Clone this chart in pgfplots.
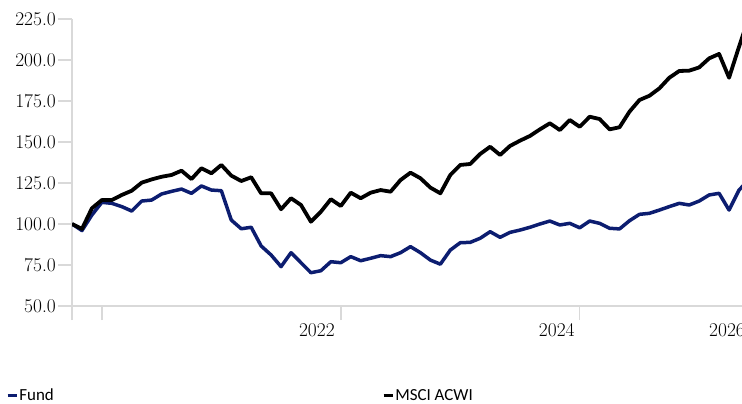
\documentclass[border=0pt]{standalone}
\usepackage{fontspec}
\newfontfamily\legfont{Carlito}
\usepackage{pgfplots}
\pgfplotsset{compat=1.18}
\definecolor{fundblue}{RGB}{12,29,112}
\definecolor{axgray}{RGB}{217,217,217}
\pgfplotstableread{
i fund msci
0 100 100
1 96 97
2 105.5 109.6
3 113.2 114.6
4 112.6 114.6
5 110.6 117.7
6 107.9 120.3
7 114.0 125.2
8 114.6 127.2
9 118.3 128.8
10 119.9 129.9
11 121.3 132.5
12 118.7 127.4
13 123.2 134.0
14 120.7 130.9
15 120.3 136.0
16 102.4 129.5
17 97.1 126.2
18 98.0 128.5
19 86.6 118.7
20 81.1 118.7
21 74.0 109.0
22 82.5 115.7
23 76.4 111.6
24 70.3 101.4
25 71.5 107.5
26 77.0 115.1
27 76.4 111.0
28 80.1 119.1
29 77.6 115.7
30 79.1 119.1
31 80.7 120.7
32 80.1 119.7
33 82.5 126.8
34 86.2 131.3
35 82.5 127.9
36 78.0 122.2
37 75.5 118.7
38 84.1 129.9
39 88.6 136.0
40 88.8 136.6
41 91.3 142.7
42 95.3 147.1
43 91.9 142.1
44 94.9 147.6
45 96.3 150.8
46 98.0 153.7
47 100.0 157.7
48 101.8 161.4
49 99.4 157.3
50 100.4 163.4
51 97.7 159.3
52 101.8 165.4
53 100.4 164.0
54 97.4 157.7
55 97.0 159.0
56 102.0 168.5
57 105.9 175.6
58 106.5 178.2
59 108.5 182.7
60 110.6 189.2
61 112.6 193.3
62 111.6 193.5
63 114.0 195.5
64 117.7 201.0
65 118.7 203.7
66 108.5 189.2
67 120.7 208.1
68 127 226
}\datatable
\begin{document}
\begin{tikzpicture}
\begin{axis}[
  at={(0,0)}, anchor=south west,
  scale only axis, width=670bp, height=287bp,
  xmin=0, xmax=67.3, ymin=50, ymax=225,
  axis x line*=bottom, axis y line*=left,
  axis line style={axgray, line width=1.5bp},
  tick align=outside, major tick length=14bp,
  tick style={axgray, line width=1.5bp},
  ytick={50,75,...,225},
  /pgf/number format/fixed, /pgf/number format/fixed zerofill,
  /pgf/number format/precision=1, /pgf/number format/assume math mode=true,
  yticklabel={\pgfmathprintnumber{\tick}},
  ticklabel style={font=\rmfamily\fontsize{19.5}{22}\selectfont},
  yticklabel style={inner sep=2bp},
  xtick={0,3,27,51}, xticklabels={},
  extra x ticks={24.6,48.7,65.8}, extra x tick labels={2022,2024,2026},
  extra x tick style={major tick length=0pt, xticklabel style={yshift=-14bp}},
  legend columns=2,
  legend cell align=left,
  legend image code/.code={\draw[line width=3.5bp] (0bp,0bp) -- (9bp,0bp);},
  legend style={draw=none, fill=none, at={(axis description cs:-0.099,-0.312)}, anchor=west,
    font=\legfont\fontsize{17}{20}\selectfont, inner sep=0pt,
    nodes={inner sep=1bp},
    /tikz/column 2/.style={column sep=327bp}},
]
\addplot[fundblue, line width=3.5bp, line join=round] table[x=i, y=fund] {\datatable};
\addlegendentry{Fund}
\addplot[black, line width=3.8bp, line join=round] table[x=i, y=msci] {\datatable};
\addlegendentry{MSCI ACWI}
\end{axis}
\pgfresetboundingbox
\path[use as bounding box] (-72bp,-98bp) rectangle (670bp,306bp);
\end{tikzpicture}
\end{document}
